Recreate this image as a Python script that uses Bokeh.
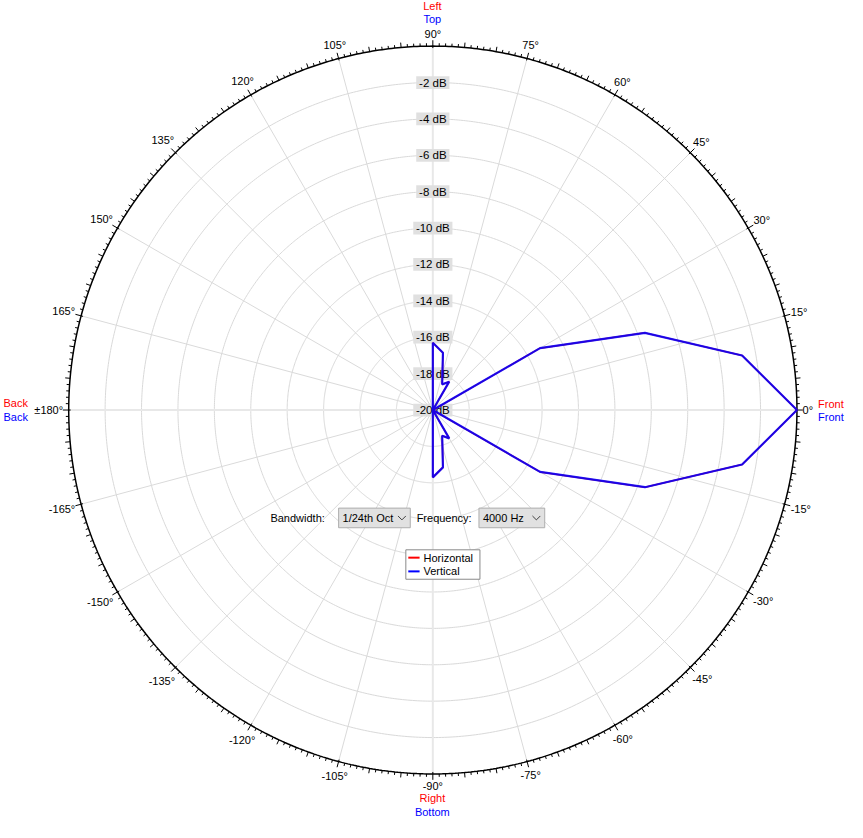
import numpy as np
from bokeh.plotting import figure
from bokeh.models import Range1d
from bokeh.core.properties import value
from bokeh.embed import file_html
from bokeh.resources import INLINE

# ---------------- data ----------------
angles_deg = [-180, -170, -160, -150, -140, -130, -120, -110, -100, -90, -80, -70, -60,
              -50, -40, -30, -20, -10, 0, 10, 20, 30, 40, 50, 60, 70, 80, 90,
              100, 110, 120, 130, 140, 150, 160, 170, 180]
horizontal_db = [-20, -20, -20, -20, -20, -20, -20, -20, -20, -16.3, -16.8, -18.5, -18.2,
                 -20, -20, -13.2, -7.6, -2.75, 0, -2.75, -7.6, -13.2, -20, -20, -18.2, -18.5, -16.8, -16.3,
                 -20, -20, -20, -20, -20, -20, -20, -20, -20]
vertical_db = [-20, -20, -20, -20, -20, -20, -20, -20, -20, -16.3, -16.8, -18.5, -18.2,
               -20, -20, -13.2, -7.6, -2.75, 0, -2.75, -7.6, -13.2, -20, -20, -18.2, -18.5, -16.8, -16.3,
               -20, -20, -20, -20, -20, -20, -20, -20, -20]
ring_levels = [-2, -4, -6, -8, -10, -12, -14, -16, -18, -20]
ring_labels = ["-2 dB", "-4 dB", "-6 dB", "-8 dB", "-10 dB", "-12 dB", "-14 dB", "-16 dB", "-18 dB", "-20 dB"]
angle_ticks = list(range(-165, 181, 15))
angle_tick_labels = ["±180°" if a == 180 else f"{a}°" for a in angle_ticks]
db_min, db_max = -20, 0

# ---------------- layout ----------------
CX, CY = 440.5, 417.5     # centre in reference pixels
R = 371.0                 # outer radius (0 dB)
FONT = value("Liberation Sans")
FS = "11px"


def P(px, py):
    return px - CX, CY - py


def rad(db):
    db = max(db, db_min)
    return (db - db_min) / (db_max - db_min) * R


p = figure(width=847, height=822, output_backend="svg", toolbar_location=None,
           x_range=Range1d(0 - CX, 863 - CX), y_range=Range1d(CY - 838, CY - 0),
           x_axis_location=None, y_axis_location=None, min_border=0)
p.grid.visible = False
p.outline_line_color = None
p.background_fill_color = "white"
p.border_fill_color = "white"

t = np.linspace(0, 2 * np.pi, 721)
# rings
for lv in ring_levels[:-1]:
    r = rad(lv)
    p.line(r * np.cos(t), r * np.sin(t), line_color="#d9d9d9", line_width=1)

# spokes
for a in range(0, 360, 15):
    ar = np.deg2rad(a)
    if a % 90 == 0:
        p.line([0, R * np.cos(ar)], [0, R * np.sin(ar)], line_color="#e8e8e8", line_width=2)
    else:
        p.line([0, R * np.cos(ar)], [0, R * np.sin(ar)], line_color="#dadada", line_width=1)

# outer circle
p.line(R * np.cos(t), R * np.sin(t), line_color="black", line_width=1.5)

# ticks
x0s, y0s, x1s, y1s = [], [], [], []
for a in range(0, 360):
    ar = np.deg2rad(a)
    if a % 15 == 0:
        r0, r1 = R - 2, R + 6
    elif a % 5 == 0:
        r0, r1 = R, R + 5
    else:
        r0, r1 = R, R + 3
    x0s.append(r0 * np.cos(ar)); y0s.append(r0 * np.sin(ar))
    x1s.append(r1 * np.cos(ar)); y1s.append(r1 * np.sin(ar))
p.segment(x0s, y0s, x1s, y1s, line_color="black", line_width=1)

# angle labels
lx, ly = [], []
for a, lab in zip(angle_ticks, angle_tick_labels):
    ar = np.deg2rad(a)
    w = sum(6.1 if ch.isdigit() else (3.7 if ch == "-" else (6.4 if ch == "±" else 4.0)) for ch in lab)
    rr = 377 + (w / 2) * abs(np.cos(ar)) + 6 * abs(np.sin(ar))
    lx.append(rr * np.cos(ar)); ly.append(rr * np.sin(ar))
p.text(lx, ly, text=angle_tick_labels, text_align="center", text_baseline="middle",
       text_font=FONT, text_font_size=FS, text_color="black")

# dB labels
rw = [7 + 6.1 * sum(ch.isdigit() for ch in s) + 3.7 + 3 + 14 for s in ring_labels]
ry = [rad(lv) for lv in ring_levels]
p.rect([0] * len(ry), ry, width=rw, height=13, fill_color="#e0e0e0", line_color=None)
p.text([0] * len(ry), ry, text=ring_labels, text_align="center", text_baseline="middle",
       text_font=FONT, text_font_size="11.5px", text_color="black")

# data lines
ang = np.deg2rad(np.array(angles_deg, dtype=float))
rh = np.array([rad(v) for v in horizontal_db])
rv = np.array([rad(v) for v in vertical_db])
p.line(rh * np.cos(ang), rh * np.sin(ang), line_color="#ff0000", line_width=1.5)
p.line(rv * np.cos(ang), rv * np.sin(ang), line_color="#0000ff", line_width=2.2, line_alpha=0.88)

# direction labels
def txt(px, py, s, color, align="center"):
    x, y = P(px, py)
    p.text([x], [y], text=[s], text_align=align, text_baseline="middle",
           text_font=FONT, text_font_size=FS, text_color=color)

txt(440, 6, "Left", "#ff0000")
txt(440, 19, "Top", "#0000ff")
txt(440, 813, "Right", "#ff0000")
txt(440, 827, "Bottom", "#0000ff")
txt(833, 411, "Front", "#ff0000", "left")
txt(833, 425, "Front", "#0000ff", "left")
txt(3, 410, "Back", "#ff0000", "left")
txt(3, 425, "Back", "#0000ff", "left")

# controls
txt(275, 528, "Bandwidth:", "black", "left")
txt(424, 528, "Frequency:", "black", "left")
for (xa, xb, s) in [(344.5, 417.5, "1/24th Oct"), (487.5, 554.5, "4000 Hz")]:
    (x0, y0), (x1, y1) = P(xa, 517.5), P(xb, 537.5)
    p.rect([(x0 + x1) / 2], [(y0 + y1) / 2], width=x1 - x0, height=y0 - y1,
           fill_color="#e1e1e1", line_color="#adadad", line_width=1)
    txt(xa + 4, 528, s, "black", "left")
    cxv = xb - 8.5
    vx = [cxv - 4, cxv, cxv + 4]
    vy = [525.5, 529.5, 525.5]
    pts = [P(a, b) for a, b in zip(vx, vy)]
    p.line([q[0] for q in pts], [q[1] for q in pts], line_color="#404040", line_width=1)

# legend
(lx0, ly0), (lx1, ly1) = P(413, 560), P(488.5, 590)
p.rect([(lx0 + lx1) / 2], [(ly0 + ly1) / 2], width=lx1 - lx0, height=ly0 - ly1,
       fill_color="white", line_color="#8a8a8a", line_width=1)
for yy, col, name in [(568, "#ff0000", "Horizontal"), (582, "#0000ff", "Vertical")]:
    (a0, b0), (a1, b1) = P(415.5, yy), P(427, yy)
    p.line([a0, a1], [b0, b1], line_color=col, line_width=2)
    txt(431, yy, name, "black", "left")

open("out.html", "w").write(file_html(p, INLINE))
